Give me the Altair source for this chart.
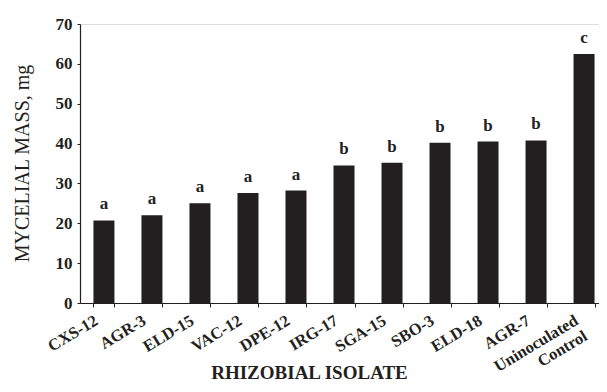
import altair as alt
import pandas as pd

isolates = ["CXS-12", "AGR-3", "ELD-15", "VAC-12", "DPE-12", "IRG-17",
            "SGA-15", "SBO-3", "ELD-18", "AGR-7", "Uninoculated Control"]
mass = [20.7, 22.0, 25.0, 27.6, 28.2, 34.5, 35.2, 40.2, 40.5, 40.8, 62.5]
letters = ["a", "a", "a", "a", "a", "b", "b", "b", "b", "b", "c"]
y_ticks = [0, 10, 20, 30, 40, 50, 60, 70]

df = pd.DataFrame({"isolate": isolates, "mass": mass, "letter": letters})

FONT = "Liberation Serif"
INK = "#231f20"

x = alt.X(
    "isolate:N",
    sort=isolates,
    scale=alt.Scale(range=[0, 528], paddingInner=0.5625, paddingOuter=0.28),
    axis=alt.Axis(
        title="RHIZOBIAL ISOLATE",
        titleFont=FONT, titleFontSize=19, titleFontWeight="bold", titleColor=INK,
        titleX=229, titleY=75, titleAlign="center", titleBaseline="alphabetic",
        labelFont=FONT, labelFontSize=16.5, labelFontWeight="bold", labelColor=INK,
        labelAngle=-31, labelAlign="right", labelBaseline="top",
        labelOffset=-12, labelPadding=5, labelLineHeight=18,
        labelExpr="datum.label == 'Uninoculated Control' ? ['Uninoculated', 'Control'] : datum.label",
        tickBand="extent", tickSize=4, tickColor=INK,
        domainColor=INK, domainWidth=1.2, labelOverlap=False,
    ),
)

y = alt.Y(
    "mass:Q",
    scale=alt.Scale(domain=[0, 70], nice=False),
    axis=alt.Axis(
        title="MYCELIAL MASS, mg",
        titleFont=FONT, titleFontSize=20, titleFontWeight="normal", titleColor=INK,
        titleAngle=-90, titleX=-58, titleY=139, titleAlign="center", titleBaseline="middle",
        labelFont=FONT, labelFontSize=17, labelFontWeight="bold", labelColor=INK,
        labelPadding=5, tickSize=3, tickColor=INK, labelOverlap=False,
        values=y_ticks, labelFlush=False,
        domainColor=INK, domainWidth=1.2, grid=False,
    ),
)

base = alt.Chart(df).encode(x=x, y=y)

bars = base.mark_bar(color=INK)

text = base.mark_text(
    font=FONT, fontSize=17, fontWeight="bold", color=INK,
    baseline="bottom", dy=-7,
).encode(text="letter:N")

chart = (bars + text).properties(
    width=519, height=279,
    autosize=alt.AutoSizeParams(type="none"),
    padding={"left": 72, "top": 16, "right": 0, "bottom": 80},
).configure_view(stroke=None).configure(background="white")

chart.save("out.html", embed_options={"renderer": "svg", "actions": False})
